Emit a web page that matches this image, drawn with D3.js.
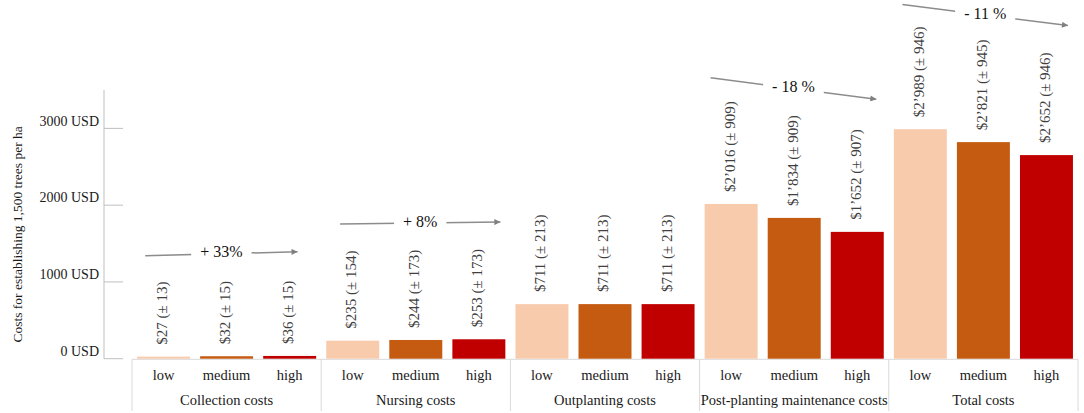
<!DOCTYPE html>
<html>
<head>
<meta charset="utf-8">
<title>Establishment costs</title>
<script src="https://d3js.org/d3.v7.min.js"></script>
<style>
  body { margin: 0; background: #fff; }
  svg text { font-family: "Liberation Serif", "Times New Roman", serif; }
</style>
</head>
<body>
<svg id="chart" width="1084" height="413"></svg>
<script>
// data
const groups = ["Collection costs", "Nursing costs", "Outplanting costs",
                "Post-planting maintenance costs", "Total costs"];
const levels = ["low", "medium", "high"];
const means = [
  [27, 32, 36],
  [235, 244, 253],
  [711, 711, 711],
  [2016, 1834, 1652],
  [2989, 2821, 2652]
];
const sds = [
  [13, 15, 15],
  [154, 173, 173],
  [213, 213, 213],
  [909, 909, 907],
  [946, 945, 946]
];
const yTicks = [0, 1000, 2000, 3000];
// change arrows: group, label, start/end height in USD,
// start/end as share of the group width
const changes = [
  { group: "Collection costs", label: "+ 33%", from: 1340, to: 1393, a: 0.07, b: 0.875 },
  { group: "Nursing costs", label: "+ 8%", from: 1753, to: 1780, a: 0.10, b: 0.947 },
  { group: "Post-planting maintenance costs", label: "- 18 %", from: 3660, to: 3380, a: 0.058, b: 0.934 },
  { group: "Total costs", label: "- 11 %", from: 4615, to: 4340, a: 0.072, b: 0.947 }
];
const colors = ["#f8cbad", "#c55a11", "#c00000"];

const svg = d3.select("#chart");
const axisX = 104, plotL = 132, plotR = 1078, plotT = 90, base = 358.7;

const y = d3.scaleLinear().domain([0, 3500]).range([base, plotT]);
const x0 = d3.scaleBand().domain(groups).range([plotL, plotR]);
const x1 = d3.scaleBand().domain(levels).range([0, x0.bandwidth()])
  .paddingInner(0.16).paddingOuter(0.08);

// formats 2016 as $2’016
function money(v) {
  const s = String(v);
  return "$" + (s.length > 3 ? s.slice(0, -3) + "’" + s.slice(-3) : s);
}

// y axis
const yAxis = svg.append("g");
yAxis.append("line")
  .attr("x1", axisX).attr("x2", axisX).attr("y1", plotT).attr("y2", base)
  .attr("stroke", "#bfbfbf");
yAxis.selectAll(".tick").data(yTicks).enter().append("line")
  .attr("x1", axisX).attr("x2", axisX + 19)
  .attr("y1", d => y(d)).attr("y2", d => y(d))
  .attr("stroke", "#bfbfbf");
yAxis.selectAll(".lab").data(yTicks).enter().append("text")
  .attr("x", axisX - 5).attr("y", d => y(d) - 6)
  .attr("text-anchor", "end").attr("dominant-baseline", "middle")
  .attr("font-size", 14).attr("fill", "#1a1a1a")
  .text(d => d + " USD");
svg.append("text")
  .attr("transform", `translate(19,${(plotT + base) / 2 + 10}) rotate(-90)`)
  .attr("text-anchor", "middle").attr("dominant-baseline", "middle")
  .attr("font-size", 13.5).attr("fill", "#1a1a1a")
  .text("Costs for establishing 1,500 trees per ha");

// category box
const cat = svg.append("g");
cat.append("line")
  .attr("x1", plotL).attr("x2", plotR).attr("y1", base + 0.6).attr("y2", base + 0.6)
  .attr("stroke", "#d9d9d9");
cat.selectAll(".sep").data(groups.concat(["end"])).enter().append("line")
  .attr("x1", d => d === "end" ? plotR : x0(d))
  .attr("x2", d => d === "end" ? plotR : x0(d))
  .attr("y1", base + 0.6).attr("y2", 411)
  .attr("stroke", "#d9d9d9");

const g = svg.selectAll(".grp").data(groups).enter().append("g")
  .attr("transform", d => `translate(${x0(d)},0)`);

g.append("text")
  .attr("x", x0.bandwidth() / 2).attr("y", 405)
  .attr("text-anchor", "middle").attr("font-size", 14.5).attr("fill", "#1a1a1a")
  .text(d => d);

g.each(function(grp, gi) {
  const sel = d3.select(this);
  const rows = levels.map((lv, i) => ({ lv, i, v: means[gi][i], sd: sds[gi][i] }));
  sel.selectAll("rect").data(rows).enter().append("rect")
    .attr("x", d => x1(d.lv)).attr("width", x1.bandwidth())
    .attr("y", d => y(d.v)).attr("height", d => base - y(d.v))
    .attr("fill", d => colors[d.i]);
  sel.selectAll(".lv").data(rows).enter().append("text")
    .attr("x", d => x1(d.lv) + x1.bandwidth() / 2).attr("y", 380)
    .attr("text-anchor", "middle").attr("font-size", 14.5).attr("fill", "#1a1a1a")
    .text(d => d.lv);
  sel.selectAll(".val").data(rows).enter().append("text")
    .attr("transform", d => `translate(${x1(d.lv) + x1.bandwidth() / 2},${y(d.v) - 12}) rotate(-90)`)
    .attr("dominant-baseline", "middle")
    .attr("font-size", 15).attr("fill", "#404040")
    .text(d => `${money(d.v)} (± ${d.sd})`);
});

// change arrows
svg.append("defs").append("marker")
  .attr("id", "head").attr("viewBox", "0 0 10 10")
  .attr("refX", 10).attr("refY", 5)
  .attr("markerWidth", 9).attr("markerHeight", 6)
  .attr("markerUnits", "userSpaceOnUse").attr("orient", "auto")
  .append("path").attr("d", "M0,0L10,5L0,10Z").attr("fill", "#7f7f7f");

const ann = svg.selectAll(".ann").data(changes).enter().append("g");
ann.each(function(d) {
  const sel = d3.select(this);
  const xs = x0(d.group) + d.a * x0.bandwidth();
  const xe = x0(d.group) + d.b * x0.bandwidth();
  const ys = y(d.from), ye = y(d.to);
  sel.append("line")
    .attr("x1", xs).attr("y1", ys).attr("x2", xe).attr("y2", ye)
    .attr("stroke", "#8c8c8c").attr("stroke-width", 1.5)
    .attr("marker-end", "url(#head)");
  const bg = sel.append("rect").attr("fill", "#fff");
  const t = sel.append("text")
    .attr("x", (xs + xe) / 2).attr("y", (ys + ye) / 2)
    .attr("text-anchor", "middle").attr("dominant-baseline", "middle")
    .attr("font-size", 16).attr("fill", "#111")
    .text(d.label);
  const b = t.node().getBBox();
  bg.attr("x", b.x - 9).attr("y", b.y).attr("width", b.width + 18).attr("height", b.height);
});
</script>
</body>
</html>
